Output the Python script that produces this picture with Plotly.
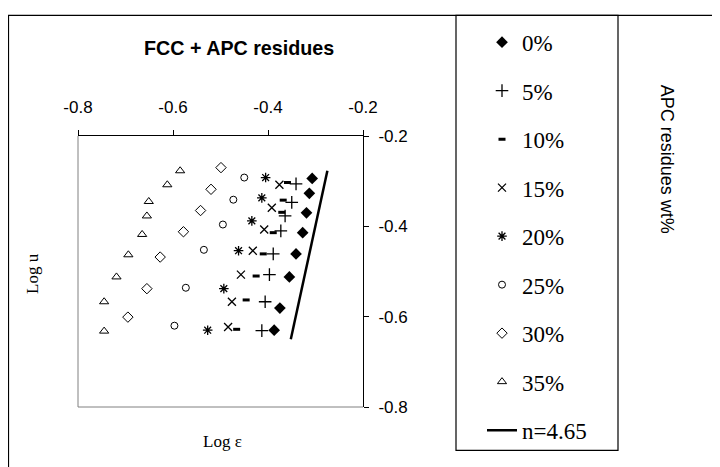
import plotly.graph_objects as go

# ---------------- data ----------------
labels = ["0%", "5%", "10%", "15%", "20%", "25%", "30%", "35%"]

x_0 = [-0.307, -0.313, -0.319, -0.327, -0.341, -0.355, -0.375, -0.387]
y_0 = [-0.294, -0.327, -0.370, -0.414, -0.461, -0.512, -0.581, -0.630]

x_5 = [-0.341, -0.350, -0.364, -0.373, -0.389, -0.397, -0.406, -0.413]
y_5 = [-0.306, -0.347, -0.377, -0.410, -0.461, -0.507, -0.567, -0.631]

x_10 = [-0.359, -0.368, -0.371, -0.389, -0.410, -0.425, -0.446, -0.466]
y_10 = [-0.303, -0.342, -0.369, -0.414, -0.461, -0.510, -0.563, -0.628]

x_15 = [-0.376, -0.392, -0.408, -0.432, -0.457, -0.476, -0.484]
y_15 = [-0.308, -0.359, -0.407, -0.454, -0.507, -0.567, -0.623]

x_20 = [-0.405, -0.413, -0.434, -0.462, -0.493, -0.527]
y_20 = [-0.292, -0.337, -0.388, -0.454, -0.538, -0.630]

x_25 = [-0.450, -0.473, -0.495, -0.535, -0.573, -0.597]
y_25 = [-0.292, -0.341, -0.396, -0.452, -0.536, -0.620]

x_30 = [-0.499, -0.520, -0.542, -0.578, -0.627, -0.655, -0.695]
y_30 = [-0.270, -0.318, -0.365, -0.412, -0.468, -0.538, -0.601]

x_35 = [-0.585, -0.612, -0.651, -0.655, -0.665, -0.694, -0.719, -0.745, -0.745]
y_35 = [-0.277, -0.308, -0.345, -0.377, -0.418, -0.463, -0.512, -0.567, -0.632]

fit_label = "n=4.65"
fit_x = [-0.352, -0.275]
fit_y = [-0.650, -0.277]

axis_ticks = [-0.8, -0.6, -0.4, -0.2]
axis_tick_text = ["-0.8", "-0.6", "-0.4", "-0.2"]

# ---------------- layout helpers ----------------
W, H = 720, 467
OFF = 8  # page body margin in the viewer
L, R, T, B = 78 - OFF, 363 - OFF, 132 - OFF, 407 - OFF


def fx(px):
    return (px - OFF - L) / (R - L)


def fy(py):
    return (B - (py - OFF)) / (B - T)


series = [
    (x_0, y_0, dict(symbol="diamond", size=9, color="black")),
    (x_5, y_5, dict(symbol="cross-thin-open", size=9, color="black", line=dict(width=1.3, color="black"))),
    (x_10, y_10, dict(symbol="line-ew-open", size=5, color="black", line=dict(width=3, color="black"))),
    (x_15, y_15, dict(symbol="x-thin-open", size=8, color="black", line=dict(width=1.3, color="black"))),
    (x_20, y_20, dict(symbol="asterisk-open", size=8, color="black", line=dict(width=1.3, color="black"))),
    (x_25, y_25, dict(symbol="circle-open", size=7, color="black", line=dict(width=1, color="black"))),
    (x_30, y_30, dict(symbol="diamond-open", size=8, color="black", line=dict(width=1, color="black"))),
    (x_35, y_35, dict(symbol="triangle-up-open", size=8, color="black", line=dict(width=1, color="black"))),
]

fig = go.Figure()
for i, (xs, ys, mk) in enumerate(series):
    fig.add_trace(go.Scatter(x=xs, y=ys, mode="markers", name=labels[i],
                             marker=mk, legendgroup=labels[i]))

fig.add_trace(go.Scatter(x=fit_x, y=fit_y, mode="lines", name=fit_label,
                         line=dict(color="black", width=2.5), legendgroup=fit_label))

axis_common = dict(
    range=[-0.8, -0.2], tickvals=axis_ticks, ticktext=axis_tick_text,
    ticks="outside", ticklen=5, tickcolor="black", tickwidth=1,
    showline=True, linecolor="black", linewidth=1,
    showgrid=False, zeroline=False,
    tickfont=dict(family="Liberation Sans, Arial", size=17, color="black"),
)

fig.update_layout(
    width=W, height=H,
    margin=dict(l=L, r=W - R, t=T, b=H - B),
    paper_bgcolor="white", plot_bgcolor="white",
    xaxis=dict(side="top", ticklabelstandoff=10, **axis_common),
    yaxis=dict(side="right", ticklabelstandoff=6, **axis_common),
    showlegend=True,
    legend=dict(
        x=fx(482), xanchor="left", y=fy(15), yanchor="top",
        font=dict(family="Liberation Serif, Times New Roman", size=23, color="black"),
        bgcolor="rgba(0,0,0,0)", borderwidth=0,
        tracegroupgap=15.6, itemwidth=30, maxheight=460,
    ),
)

shapes = [
    # outer frame
    dict(type="rect", xref="paper", yref="paper", x0=fx(8.5), x1=fx(740), y0=fy(9.5), y1=fy(480),
         line=dict(color="black", width=1.2), layer="below"),
    # legend box
    dict(type="rect", xref="paper", yref="paper", x0=fx(456), x1=fx(618), y0=fy(9.5), y1=fy(451),
         line=dict(color="black", width=1.2), layer="below"),
    # gray left and bottom plot edges
    dict(type="line", xref="paper", yref="paper", x0=0, x1=0, y0=0, y1=1,
         line=dict(color="#808080", width=1)),
    dict(type="line", xref="paper", yref="paper", x0=0, x1=1, y0=0, y1=0,
         line=dict(color="#808080", width=1)),
]
fig.update_layout(shapes=shapes)

ann_common = dict(xref="paper", yref="paper", xanchor="center", yanchor="middle", showarrow=False)
annotations = [
    dict(text="<b>FCC + APC residues</b>", x=fx(239), y=fy(43), **ann_common,
         font=dict(family="Liberation Sans, Arial", size=19.7, color="black")),
    dict(text="Log u", x=fx(33), y=fy(272), textangle=-90, **ann_common,
         font=dict(family="Liberation Serif, Times New Roman", size=17, color="black")),
    dict(text="Log ε", x=fx(222), y=fy(442), **ann_common,
         font=dict(family="Liberation Serif, Times New Roman", size=17, color="black")),
    dict(text="APC residues wt%", x=fx(667), y=fy(155), textangle=90, **ann_common,
         font=dict(family="Liberation Sans, Arial", size=18, color="black")),
]
fig.update_layout(annotations=annotations)

fig.write_html("out.html")
